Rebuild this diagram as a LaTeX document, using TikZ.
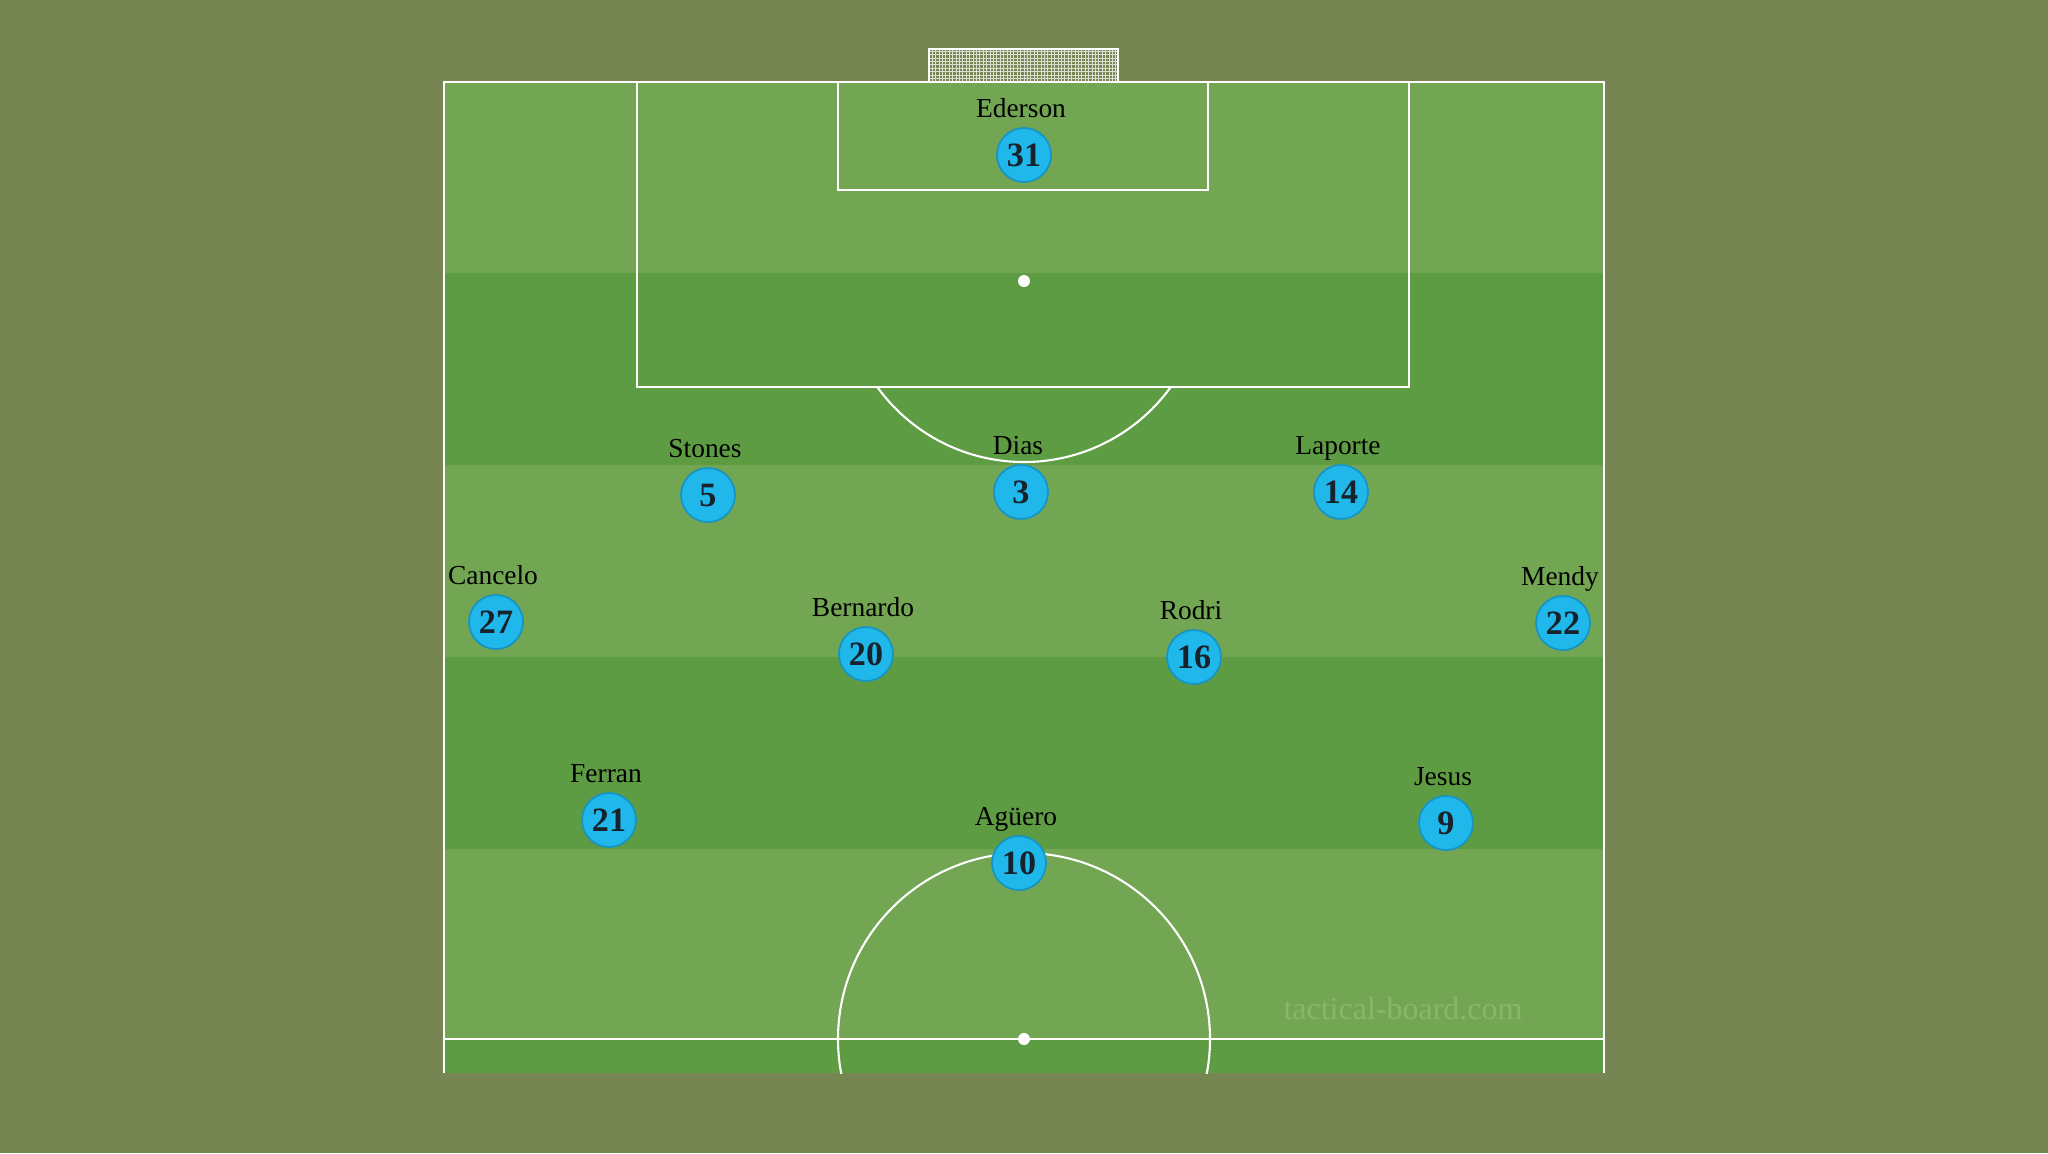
\documentclass[tikz,border=0pt]{standalone}
\usepackage{fontspec}
\setmainfont{Liberation Serif}
\usetikzlibrary{positioning}

\definecolor{turf}{HTML}{778552}
\definecolor{grasslight}{HTML}{72A653}
\definecolor{grassdark}{HTML}{5E9C43}
\definecolor{kitblue}{HTML}{20B7EA}
\definecolor{kitedge}{HTML}{1695C4}
\definecolor{kitnum}{HTML}{17222B}
\definecolor{markfaint}{HTML}{86B76A}

\begin{document}
\begin{tikzpicture}[x=0.01cm, y=-0.01cm, line/.style={draw=white, line width=0.6pt}]
        \tikzstyle{player}=[circle,fill=kitblue,draw=kitedge,line width=0.5pt,minimum size=0.54cm,inner sep=0pt,text=kitnum,font=\bfseries\fontsize{9.7}{10}\selectfont]
        \tikzstyle{pname}=[inner sep=0pt,text depth=0pt,xshift=-0.03cm,font=\fontsize{7.8}{8}\selectfont]

        \fill[turf] (0,0) rectangle (2048,1153);
        \useasboundingbox (0,0) rectangle (2048,1153);

        \fill[grasslight] (444,82)   rectangle (1604,273);
        \fill[grassdark]  (444,273)  rectangle (1604,465);
        \fill[grasslight] (444,465)  rectangle (1604,657);
        \fill[grassdark]  (444,657)  rectangle (1604,849);
        \fill[grasslight] (444,849)  rectangle (1604,1039);
        \fill[grassdark]  (444,1039) rectangle (1604,1073);

        \begin{scope}
            \clip (929,49) rectangle (1118,82);
            \draw[white, opacity=0.75, line width=0.15pt, step=0.034cm] (900,20) grid (1150,100);
        \end{scope}
        \draw[line] (929,82) -- (929,49) -- (1118,49) -- (1118,82);

        \draw[line] (444,1073) -- (444,82) -- (1604,82) -- (1604,1073);
        \draw[line] (444,1039) -- (1604,1039);
        \draw[line] (637,82) -- (637,387) -- (1409,387) -- (1409,82);
        \draw[line] (838,82) -- (838,190) -- (1208,190) -- (1208,82);
        \begin{scope}
            \clip (637,387) rectangle (1409,600);
            \draw[line] (1024,281) circle[radius=181];
        \end{scope}
        \begin{scope}
            \clip (444,82) rectangle (1604,1073);
            \draw[line] (1024,1039) circle[radius=186];
        \end{scope}
        \fill[white] (1024,281) circle[radius=6];
        \fill[white] (1024,1039) circle[radius=6];

        \node[anchor=base, text=markfaint, font=\fontsize{9.1}{10}\selectfont] (brand) at (1403,1019) {tactical-board.com};

        \node[player]   (p31)   at (1024,155)   {31};
        \node[player]   (p5)    at (708,495)    {5};
        \node[player]   (p3)    at (1021,492)   {3};
        \node[player]   (p14)   at (1341,492)   {14};
        \node[player]   (p27)   at (496,622)    {27};
        \node[player]   (p20)   at (866,654)    {20};
        \node[player]   (p16)   at (1194,657)   {16};
        \node[player]   (p22)   at (1563,623)   {22};
        \node[player]   (p21)   at (609,820)    {21};
        \node[player]   (p10)   at (1019,863)   {10};
        \node[player]   (p9)    at (1446,823)   {9};

        \node[pname]    (ederson)   [above=0.09cm of p31]   {Ederson};
        \node[pname]    (stones)    [above=0.09cm of p5]    {Stones};
        \node[pname]    (dias)      [above=0.09cm of p3]    {Dias};
        \node[pname]    (laporte)   [above=0.09cm of p14]   {Laporte};
        \node[pname]    (cancelo)   [above=0.09cm of p27]   {Cancelo};
        \node[pname]    (bernardo)  [above=0.09cm of p20]   {Bernardo};
        \node[pname]    (rodri)     [above=0.09cm of p16]   {Rodri};
        \node[pname]    (mendy)     [above=0.09cm of p22]   {Mendy};
        \node[pname]    (ferran)    [above=0.09cm of p21]   {Ferran};
        \node[pname]    (aguero)    [above=0.09cm of p10]   {Agüero};
        \node[pname]    (jesus)     [above=0.09cm of p9]    {Jesus};
    \end{tikzpicture}
\end{document}
